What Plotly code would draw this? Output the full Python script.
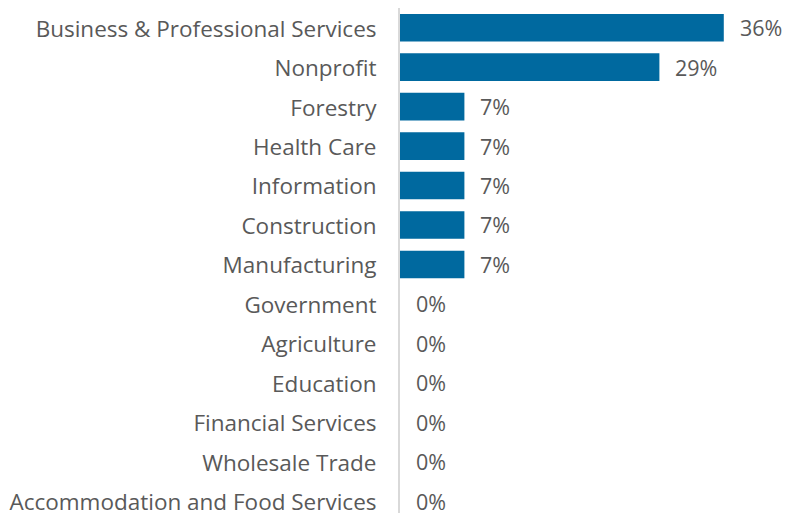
import plotly.graph_objects as go

# Share of respondents by industry (percent)
industries = [
    "Business & Professional Services",
    "Nonprofit",
    "Forestry",
    "Health Care",
    "Information",
    "Construction",
    "Manufacturing",
    "Government",
    "Agriculture",
    "Education",
    "Financial Services",
    "Wholesale Trade",
    "Accommodation and Food Services",
]
shares = [35.7, 28.6, 7.1, 7.1, 7.1, 7.1, 7.1, 0, 0, 0, 0, 0, 0]

BAR_COLOR = "#00699F"
TEXT_COLOR = "#595959"
FONT = "'Open Sans', 'Noto Sans', sans-serif"

fig = go.Figure(
    go.Bar(
        x=shares,
        y=industries,
        orientation="h",
        marker=dict(color=BAR_COLOR, line=dict(width=0)),
        hoverinfo="skip",
    )
)

# Value labels placed just past the end of each bar
for name, v in zip(industries, shares):
    fig.add_annotation(
        x=v, y=name, xref="x", yref="y",
        text=f"{v:.0f}%", showarrow=False,
        xanchor="left", yanchor="middle", xshift=14,
        font=dict(family=FONT, size=21.5, color=TEXT_COLOR),
    )

fig.update_layout(
    width=790, height=517,
    margin=dict(l=400, r=0, t=8, b=0),
    paper_bgcolor="white", plot_bgcolor="white",
    bargap=0.3,
    showlegend=False,
    font=dict(family=FONT, size=22.5, color=TEXT_COLOR),
)
fig.update_xaxes(range=[0, 43], visible=False, zeroline=False, showgrid=False)
fig.update_yaxes(
    categoryorder="array", categoryarray=industries,
    range=[12.3, -0.5],
    showline=True, linecolor="#D9D9D9", linewidth=2,
    showgrid=False, zeroline=False, ticks="",
    ticklabelstandoff=17, ticklabelshift=-1,
    tickfont=dict(family=FONT, size=22.5, color=TEXT_COLOR),
)

fig.write_html("out.html")
